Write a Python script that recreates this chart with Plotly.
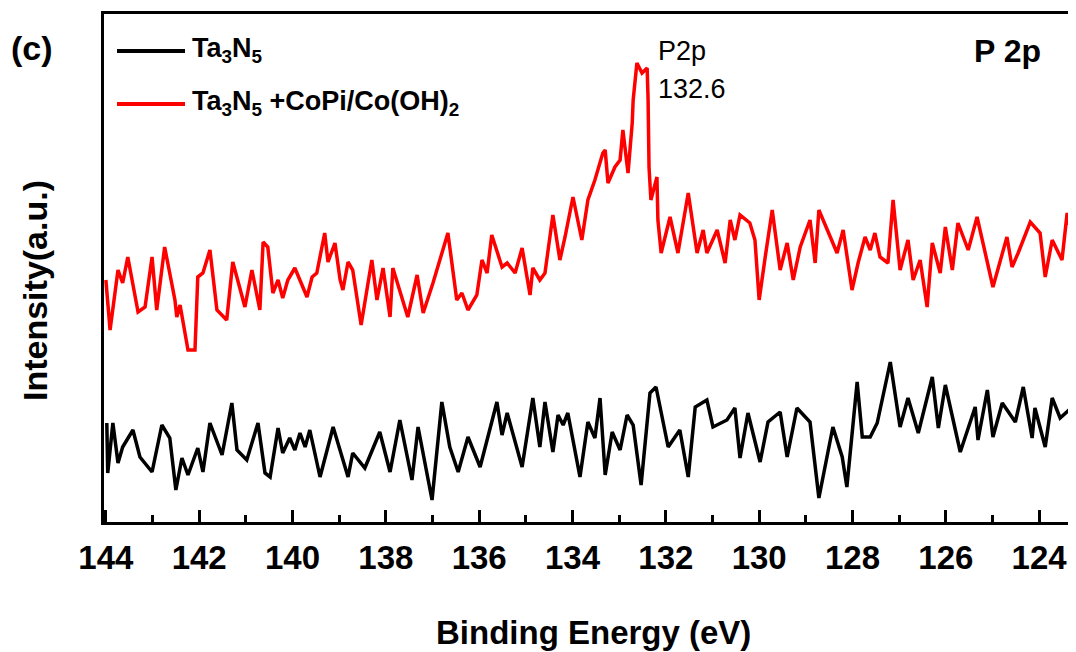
import plotly.graph_objects as go

# ---- Data (intensity in arbitrary units) ----
energy_copi = [144.0, 143.91, 143.74, 143.64, 143.53, 143.31, 143.16, 143.01, 142.91, 142.74,
               142.52, 142.48, 142.41, 142.24, 142.09, 142.03, 141.92, 141.77, 141.62, 141.41,
               141.28, 141.02, 140.87, 140.70, 140.63, 140.53, 140.42, 140.31, 140.21, 140.10,
               139.95, 139.69, 139.58, 139.48, 139.31, 139.24, 139.09, 138.98, 138.92, 138.81,
               138.71, 138.53, 138.30, 138.19, 138.06, 137.91, 137.85, 137.53, 137.33, 137.20,
               136.99, 136.67, 136.48, 136.37, 136.24, 136.05, 135.94, 135.83, 135.73, 135.51,
               135.40, 135.23, 135.08, 134.91, 134.85, 134.70, 134.59, 134.42, 134.27, 134.16,
               133.99, 133.80, 133.67, 133.52, 133.35, 133.30, 133.24, 133.09, 132.98, 132.92,
               132.81, 132.72, 132.70, 132.62, 132.51, 132.40, 132.38, 132.36, 132.32, 132.19,
               132.17, 132.10, 131.91, 131.74, 131.52, 131.33, 131.20, 131.12, 130.90, 130.73,
               130.62, 130.52, 130.41, 130.20, 130.09, 130.00, 129.87, 129.72, 129.55, 129.40,
               129.27, 129.12, 128.91, 128.80, 128.72, 128.54, 128.33, 128.20, 128.01, 127.88,
               127.73, 127.62, 127.52, 127.41, 127.24, 127.13, 126.98, 126.81, 126.70, 126.55,
               126.40, 126.29, 126.12, 126.01, 125.86, 125.74, 125.52, 125.33, 124.99, 124.69,
               124.58, 124.45, 124.19, 123.98, 123.87, 123.72, 123.51, 123.40, 123.23]
int_copi = [242, 192, 252, 239, 265, 210, 215, 265, 212, 275,
            222, 205, 217, 172, 172, 245, 249, 272, 212, 202,
            260, 215, 252, 212, 280, 275, 229, 242, 224, 242,
            254, 225, 245, 249, 289, 260, 279, 242, 232, 260,
            252, 197, 262, 222, 254, 205, 254, 205, 247, 209,
            239, 289, 222, 229, 212, 227, 262, 249, 287, 255,
            259, 249, 274, 227, 254, 242, 249, 307, 262, 285,
            325, 282, 322, 342, 369, 372, 339, 355, 362, 392,
            349, 399, 422, 459, 449, 454, 422, 355, 322, 345,
            302, 269, 305, 269, 329, 269, 292, 269, 292, 259,
            302, 282, 307, 299, 282, 222, 265, 312, 252, 279,
            242, 275, 302, 259, 312, 292, 269, 292, 232, 259,
            285, 272, 289, 265, 259, 322, 252, 282, 242, 262,
            215, 279, 249, 295, 252, 299, 272, 305, 235, 285,
            255, 269, 300, 289, 245, 282, 262, 309, 272]

energy_ta3n5 = [143.98, 143.96, 143.85, 143.74, 143.64, 143.42, 143.27, 143.01, 142.80, 142.63,
                142.50, 142.37, 142.24, 142.03, 141.92, 141.77, 141.51, 141.30, 141.19, 140.98,
                140.74, 140.59, 140.48, 140.31, 140.21, 140.06, 139.95, 139.84, 139.73, 139.63,
                139.41, 139.13, 138.81, 138.71, 138.45, 138.13, 137.91, 137.70, 137.44, 137.31,
                137.01, 136.80, 136.63, 136.45, 136.24, 135.98, 135.62, 135.51, 135.40, 135.08,
                134.85, 134.70, 134.59, 134.42, 134.31, 134.20, 134.10, 133.84, 133.67, 133.52,
                133.41, 133.30, 133.15, 132.98, 132.83, 132.70, 132.53, 132.34, 132.21, 131.95,
                131.70, 131.52, 131.37, 131.12, 130.99, 130.69, 130.52, 130.41, 130.24, 129.98,
                129.81, 129.55, 129.40, 129.19, 128.91, 128.72, 128.42, 128.22, 128.12, 127.90,
                127.79, 127.62, 127.47, 127.19, 126.98, 126.81, 126.59, 126.29, 126.16, 126.01,
                125.69, 125.37, 125.31, 125.11, 124.99, 124.79, 124.51, 124.34, 124.15, 124.09,
                123.87, 123.72, 123.55, 123.29, 123.23]
int_ta3n5 = [99, 49, 99, 59, 75, 92, 65, 50, 97, 84,
             32, 64, 47, 74, 50, 99, 67, 119, 72, 62,
             99, 49, 45, 94, 69, 84, 72, 89, 75, 92,
             45, 95, 45, 69, 54, 90, 50, 102, 42, 95,
             22, 120, 75, 50, 85, 55, 120, 87, 109, 55,
             124, 75, 120, 70, 107, 97, 109, 45, 100, 84,
             124, 47, 90, 72, 107, 97, 37, 129, 135, 75,
             92, 45, 115, 122, 95, 102, 114, 64, 109, 60,
             100, 110, 65, 114, 100, 24, 95, 65, 35, 140,
             85, 85, 99, 160, 95, 124, 89, 145, 94, 137,
             70, 115, 82, 132, 85, 119, 100, 135, 84, 114,
             75, 124, 104, 115, 72]

x_ticks = [144, 142, 140, 138, 136, 134, 132, 130, 128, 126, 124]
x_range = [144.04, 123.21]
y_range = [0, 508]

series_names = ["Ta<sub>3</sub>N<sub>5</sub>",
                "Ta<sub>3</sub>N<sub>5</sub> +CoPi/Co(OH)<sub>2</sub>"]
series_colors = ["#000000", "#ff0000"]

# the page body has an 8px margin, so the figure is 8px smaller and offset
OFF = 8
W, H = 1076 - OFF, 652 - OFF
ML, MR, MT = 104 - OFF, 0, 14 - OFF
PH = 508
MB = H - MT - PH
PW = W - ML - MR


def px(xp):
    return (xp - OFF - ML) / PW


def py(yp):
    return (H - MB - (yp - OFF)) / PH


FONT = "Liberation Sans, Arial, sans-serif"

fig = go.Figure()
fig.add_trace(go.Scatter(x=energy_ta3n5, y=int_ta3n5, mode="lines",
                         line=dict(color=series_colors[0], width=3.5),
                         name=series_names[0], showlegend=False))
fig.add_trace(go.Scatter(x=energy_copi, y=int_copi, mode="lines",
                         line=dict(color=series_colors[1], width=3.5),
                         name=series_names[1], showlegend=False))

# manual legend
legend_y = [51, 104]
for name, col, ly in zip(series_names, series_colors, legend_y):
    fig.add_shape(type="line", xref="paper", yref="paper",
                  x0=px(117), x1=px(185), y0=py(ly), y1=py(ly),
                  line=dict(color=col, width=4))
    fig.add_annotation(xref="paper", yref="paper", x=px(190), y=py(ly - 1),
                       xanchor="left", yanchor="middle", showarrow=False,
                       text=name, font=dict(family=FONT, size=27, color="black", weight="bold"))

annots = [
    dict(x=px(32), y=py(48), text="(c)", size=34, weight="bold", xanchor="center"),
    dict(x=px(656), y=py(51), text="P2p", size=27, weight="normal", xanchor="left"),
    dict(x=px(656), y=py(89), text="132.6", size=27, weight="normal", xanchor="left"),
    dict(x=px(972), y=py(51), text="P 2p", size=32, weight="bold", xanchor="left"),
    dict(x=px(593), y=py(632), text="Binding Energy (eV)", size=33, weight="bold", xanchor="center"),
]
for a in annots:
    fig.add_annotation(xref="paper", yref="paper", x=a["x"], y=a["y"], xanchor=a["xanchor"],
                       yanchor="middle", showarrow=False, text=a["text"],
                       font=dict(family=FONT, size=a["size"], color="black", weight=a["weight"]))
fig.add_annotation(xref="paper", yref="paper", x=px(35), y=py(291), textangle=-90,
                   xanchor="center", yanchor="middle", showarrow=False, text="Intensity(a.u.)",
                   font=dict(family=FONT, size=34, color="black", weight="bold"))

fig.update_layout(
    width=W, height=H,
    margin=dict(l=ML, r=MR, t=MT, b=MB),
    paper_bgcolor="white", plot_bgcolor="white",
    showlegend=False,
    xaxis=dict(range=x_range, tickvals=x_ticks, ticks="inside", ticklen=12, tickwidth=3,
               tickcolor="black", showline=True, linewidth=3, linecolor="black", mirror=True,
               showgrid=False, zeroline=False, ticklabelstandoff=4,
               minor=dict(dtick=1, tick0=143, ticks="inside", ticklen=7, tickwidth=2.5,
                          tickcolor="black", showgrid=False),
               tickfont=dict(family=FONT, size=33, color="black", weight="bold")),
    yaxis=dict(range=y_range, showticklabels=False, ticks="", showline=True, linewidth=3,
               linecolor="black", mirror=False, showgrid=False, zeroline=False),
)

fig.write_html("out.html")
